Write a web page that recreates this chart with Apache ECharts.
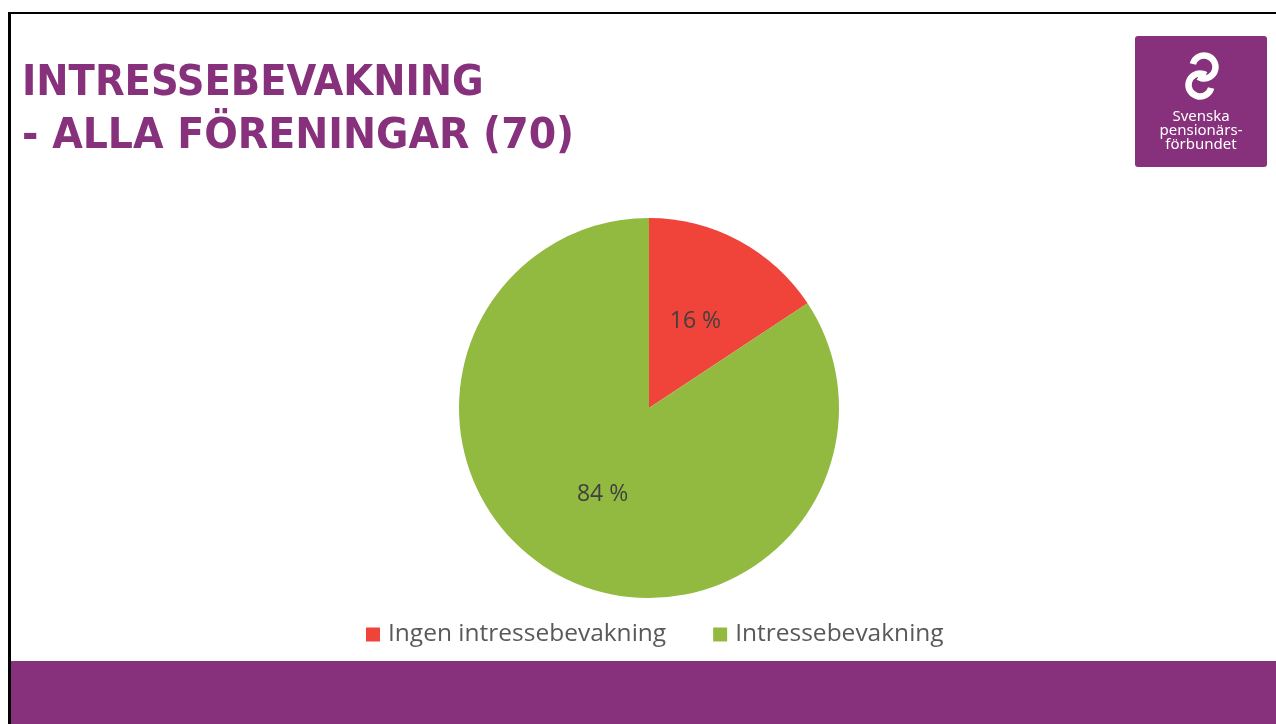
<!DOCTYPE html>
<html>
<head>
<meta charset="utf-8">
<script src="https://cdn.jsdelivr.net/npm/echarts@6/dist/echarts.min.js"></script>
<style>
  html, body { margin: 0; padding: 0; background: #ffffff; }
  #chart { width: 1276px; height: 724px; }
</style>
</head>
<body>
<div id="chart"></div>
<script>
// Föreningar (70 st) fördelade på om de arbetar med intressebevakning
const categories = ['Ingen intressebevakning', 'Intressebevakning'];
const counts = [11, 59];
const colors = ['#F0433A', '#92BA40'];
const titleLines = ['INTRESSEBEVAKNING', '- ALLA FÖRENINGAR (70)'];
const logoLines = ['Svenska', 'pensionärs-', 'förbundet'];

const PURPLE = '#87307C';
const TITLE_FONT = 'bold 42px "DejaVu Sans Condensed", "DejaVu Sans", sans-serif';
const deg = Math.PI / 180;

const chart = echarts.init(document.getElementById('chart'), null, { renderer: 'canvas' });

const titleText = titleLines.map((t, i) => ({
  type: 'text',
  x: 22, y: 63 + i * 53,
  scaleX: [1.02, 1.045][i],
  style: { text: t, x: 0, y: 0, fill: PURPLE, font: TITLE_FONT, textVerticalAlign: 'top' }
}));

const logoText = logoLines.map((t, i) => ({
  type: 'text',
  style: {
    text: t, x: 1201, y: 109 + i * 14, fill: '#ffffff',
    font: '15px "Noto Sans", "Open Sans", sans-serif', textAlign: 'center', textVerticalAlign: 'top'
  }
}));

chart.setOption({
  animation: false,
  color: colors,
  legend: {
    data: categories,
    bottom: 77,
    left: 366,
    itemWidth: 14,
    itemHeight: 14,
    itemGap: 47,
    icon: 'rect',
    padding: 0,
    textStyle: {
      fontSize: 24.5, color: '#595959', padding: [0, 0, 0, 3],
      fontFamily: '"Open Sans", "Noto Sans", sans-serif'
    }
  },
  graphic: [
    // ram
    { type: 'rect', shape: { x: 8, y: 12, width: 1270, height: 2 }, style: { fill: '#000000' } },
    { type: 'rect', shape: { x: 8, y: 12, width: 3, height: 712 }, style: { fill: '#000000' } },
    // sidfotsband
    { type: 'rect', shape: { x: 11, y: 661, width: 1265, height: 63 }, style: { fill: PURPLE } },
    // logotyp
    { type: 'rect', shape: { x: 1135, y: 36, width: 132, height: 131, r: 3 }, style: { fill: PURPLE } },
    {
      type: 'arc',
      shape: { cx: 1204, cy: 67, r: 11.5, startAngle: 195 * deg, endAngle: 480 * deg },
      style: { stroke: '#ffffff', lineWidth: 6.5, fill: null }
    },
    {
      type: 'arc',
      shape: { cx: 1200, cy: 85, r: 11.5, startAngle: 15 * deg, endAngle: 300 * deg },
      style: { stroke: '#ffffff', lineWidth: 6.5, fill: null }
    }
  ].concat(titleText, logoText),
  series: [{
    type: 'pie',
    center: [649, 408],
    radius: [0, 190],
    startAngle: 90,
    clockwise: true,
    label: {
      show: true,
      position: 'inside',
      formatter: p => Math.round(p.percent) + ' %',
      fontSize: 23,
      color: '#404040',
      fontFamily: '"Open Sans", "Noto Sans", sans-serif'
    },
    labelLine: { show: false },
    emphasis: { disabled: true },
    itemStyle: { borderWidth: 0 },
    data: categories.map((c, i) => ({ name: c, value: counts[i] }))
  }]
});
</script>
</body>
</html>
